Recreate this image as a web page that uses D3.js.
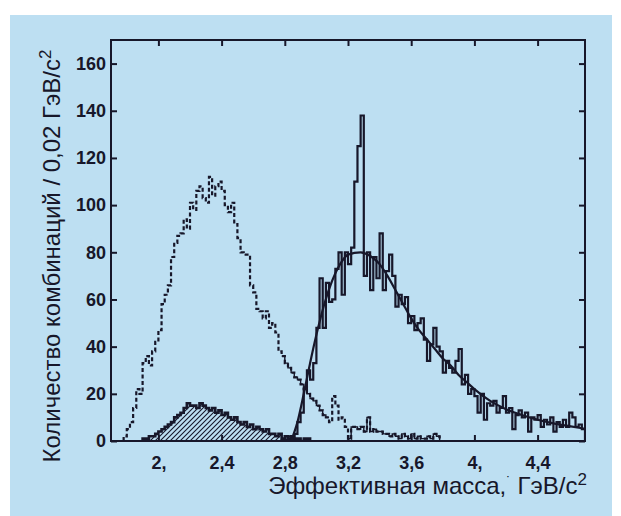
<!DOCTYPE html>
<html>
<head>
<meta charset="utf-8">
<script src="https://cdnjs.cloudflare.com/ajax/libs/d3/7.8.5/d3.min.js"></script>
<style>
  body { margin: 0; background: #ffffff; }
  svg { display: block; }
</style>
</head>
<body>
<div id="canvas"></div>
<script>
const width = 621;
const height = 516;
const margin = { top: 40, left: 111, bottom: 75, right: 36 };
const iwidth = width - margin.left - margin.right;
const iheight = height - margin.top - margin.bottom;

const ink = "#17172a";
const binW = 0.02;

// dashed histogram (broad bump at 2.3)
const dashStart = 1.78;
const dashCounts = [2, 5, 8, 14, 22, 20, 33, 36, 32, 38, 42, 47, 58, 62, 66, 78, 84, 87, 88, 94,
  90, 101, 98, 106, 108, 103, 101, 112, 104, 108, 110, 106, 100, 97, 101, 92, 86, 80, 79, 79,
  66, 63, 56, 55, 52, 55, 48, 50, 46, 38, 36, 33, 31, 29, 27, 26, 24, 22, 20, 18,
  17, 15, 13, 11, 10, 8, 19, 15, 9, 10, 6, 1, 6, 6, 5, 6, 4, 10, 4, 5,
  4, 4, 3, 3, 2, 3, 2, 1, 3, 2, 1, 3, 1, 2, 1, 1, 2, 1, 3, 2, 0];

// hatched histogram
const hatchStart = 1.90;
const hatchCounts = [1, 1, 2, 2, 3, 4, 5, 6, 7, 8, 10, 11, 12, 14, 16, 15, 15, 14, 16, 15,
  14, 13, 14, 12, 13, 11, 12, 10, 9, 10, 8, 7, 8, 6, 7, 5, 6, 5, 4, 5,
  3, 3, 2, 3, 1, 2, 1, 2, 1, 1, 0, 1, 1];

// solid histogram with the narrow peak
const sigStart = 2.80;
const sigCounts = [0, 2, 1, 3, 8, 12, 22, 30, 26, 33, 48, 69, 48, 67, 59, 60, 73, 80, 62, 80,
  75, 82, 110, 125, 138, 70, 80, 64, 78, 69, 88, 64, 72, 79, 70, 57, 62, 58, 61, 50,
  53, 47, 50, 52, 43, 34, 41, 48, 40, 38, 29, 34, 31, 29, 34, 39, 24, 28, 20, 22,
  19, 12, 20, 9, 16, 15, 17, 12, 14, 19, 12, 14, 5, 11, 13, 10, 12, 4, 10, 9,
  11, 6, 9, 7, 10, 4, 8, 6, 9, 6, 12, 10, 6, 7, 5];

// fitted curve
const fitX = [2.84, 2.88, 2.92, 2.96, 3.00, 3.05, 3.10, 3.15, 3.20, 3.28, 3.35, 3.40, 3.45, 3.50,
  3.55, 3.60, 3.65, 3.70, 3.75, 3.80, 3.85, 3.90, 3.95, 4.00, 4.10, 4.20, 4.30, 4.40, 4.50, 4.60, 4.70];
const fitY = [0, 8, 20, 33, 45, 58, 68, 75, 79, 80, 78, 75, 70, 64,
  58, 52, 47, 43, 39, 35, 32, 28, 25, 22, 17, 13.5, 11, 9, 7.5, 6.3, 5.2];

const xTicks = [2.0, 2.4, 2.8, 3.2, 3.6, 4.0, 4.4];
const xTickLabels = ["2,", "2,4", "2,8", "3,2", "3,6", "4,", "4,4"];
const yTicks = [0, 20, 40, 60, 80, 100, 120, 140, 160];

const svg = d3.select("#canvas").append("svg")
  .attr("width", width)
  .attr("height", height);

svg.append("rect")
  .attr("x", 10).attr("y", 15)
  .attr("width", 602).attr("height", height - 15)
  .attr("fill", "#bddff2");

const defs = svg.append("defs");
defs.append("clipPath").attr("id", "plot")
  .append("rect").attr("width", iwidth).attr("height", iheight);
const pat = defs.append("pattern")
  .attr("id", "hatch")
  .attr("patternUnits", "userSpaceOnUse")
  .attr("width", 5).attr("height", 5);
pat.append("path")
  .attr("d", "M-1,1 l2,-2 M0,5 l5,-5 M4,6 l2,-2")
  .attr("stroke", ink).attr("stroke-width", 1.1);

const g = svg.append("g").attr("transform", `translate(${margin.left},${margin.top})`);

const x = d3.scaleLinear().domain([1.7, 4.7]).range([0, iwidth]);
const y = d3.scaleLinear().domain([0, 170]).range([iheight, 0]);

function histPoints(start, counts) {
  const pts = [[start, 0]];
  counts.forEach((c, i) => pts.push([start + i * binW, c]));
  pts.push([start + counts.length * binW, 0]);
  return pts;
}

const stepLine = d3.line().curve(d3.curveStepAfter).x(d => x(d[0])).y(d => y(d[1]));
const stepArea = d3.area().curve(d3.curveStepAfter).x(d => x(d[0])).y0(y(0)).y1(d => y(d[1]));

const plot = g.append("g").attr("clip-path", "url(#plot)");

// hatched histogram
const hatchPts = histPoints(hatchStart, hatchCounts);
plot.append("path").attr("d", stepArea(hatchPts)).attr("fill", "url(#hatch)");
plot.append("path").attr("d", stepLine(hatchPts))
  .attr("fill", "none").attr("stroke", ink).attr("stroke-width", 2.6);

// dashed histogram
const dashPts = histPoints(dashStart, dashCounts);
plot.append("path").attr("d", stepLine(dashPts))
  .attr("fill", "none").attr("stroke", ink).attr("stroke-width", 2.2)
  .attr("stroke-dasharray", "4,2.5");

// parts of it that are printed as a thin solid line
const solidRanges = [[2.78, 3.08], [3.20, 3.80]];
solidRanges.forEach(([a, b]) => {
  const pts = [];
  dashCounts.forEach((c, i) => {
    const e = dashStart + i * binW;
    if (e >= a - 1e-6 && e < b - 1e-6) pts.push([e, c]);
  });
  const last = pts[pts.length - 1];
  pts.push([last[0] + binW, last[1]]);
  plot.append("path").attr("d", stepLine(pts))
    .attr("fill", "none").attr("stroke", ink).attr("stroke-width", 1.4);
});

// solid histogram
plot.append("path").attr("d", stepLine(histPoints(sigStart, sigCounts)))
  .attr("fill", "none").attr("stroke", ink).attr("stroke-width", 2.2)
  .attr("stroke-linejoin", "miter");

// fitted curve
const fitLine = d3.line().curve(d3.curveMonotoneX).x(d => x(d[0])).y(d => y(d[1]));
plot.append("path").attr("d", fitLine(fitX.map((v, i) => [v, fitY[i]])))
  .attr("fill", "none").attr("stroke", ink).attr("stroke-width", 2.2);

// frame and ticks
g.append("rect").attr("width", iwidth).attr("height", iheight)
  .attr("fill", "none").attr("stroke", ink).attr("stroke-width", 2);

const axisFont = "'Liberation Sans', Arial, sans-serif";

const xb = g.append("g").attr("transform", `translate(0,${iheight})`)
  .call(d3.axisBottom(x).tickValues(xTicks).tickSizeInner(-6).tickSizeOuter(0)
    .tickPadding(15).tickFormat((d, i) => xTickLabels[i]));
const xt = g.append("g")
  .call(d3.axisTop(x).tickValues(xTicks).tickSizeInner(-6).tickSizeOuter(0).tickFormat(""));
const yl = g.append("g")
  .call(d3.axisLeft(y).tickValues(yTicks).tickSizeInner(-6).tickSizeOuter(0).tickPadding(5));
const yr = g.append("g").attr("transform", `translate(${iwidth},0)`)
  .call(d3.axisRight(y).tickValues(yTicks).tickSizeInner(-6).tickSizeOuter(0).tickFormat(""));

[xb, xt, yl, yr].forEach(a => {
  a.select(".domain").remove();
  a.selectAll("line").attr("stroke", ink).attr("stroke-width", 2);
  a.selectAll("text").attr("fill", ink)
    .style("font-family", axisFont).style("font-size", "18px").style("font-weight", "bold");
});

// axis titles
const xTitle = svg.append("text")
  .attr("x", 587).attr("y", 494)
  .attr("text-anchor", "end")
  .attr("fill", ink)
  .style("font-family", axisFont).style("font-size", "24px");
xTitle.append("tspan").text("Эффективная масса,");
xTitle.append("tspan").attr("dy", -7).style("font-size", "14px").text("˙");
xTitle.append("tspan").attr("dy", 7).text(" ГэВ/c");
xTitle.append("tspan").attr("dy", -9).style("font-size", "17px").text("2");

const yTitle = svg.append("text")
  .attr("transform", "translate(60,256) rotate(-90)")
  .attr("text-anchor", "middle")
  .attr("fill", ink)
  .style("font-family", axisFont).style("font-size", "24px");
yTitle.append("tspan").text("Количество комбинаций / 0,02 ГэВ/c");
yTitle.append("tspan").attr("dy", -9).style("font-size", "17px").text("2");
</script>
</body>
</html>
